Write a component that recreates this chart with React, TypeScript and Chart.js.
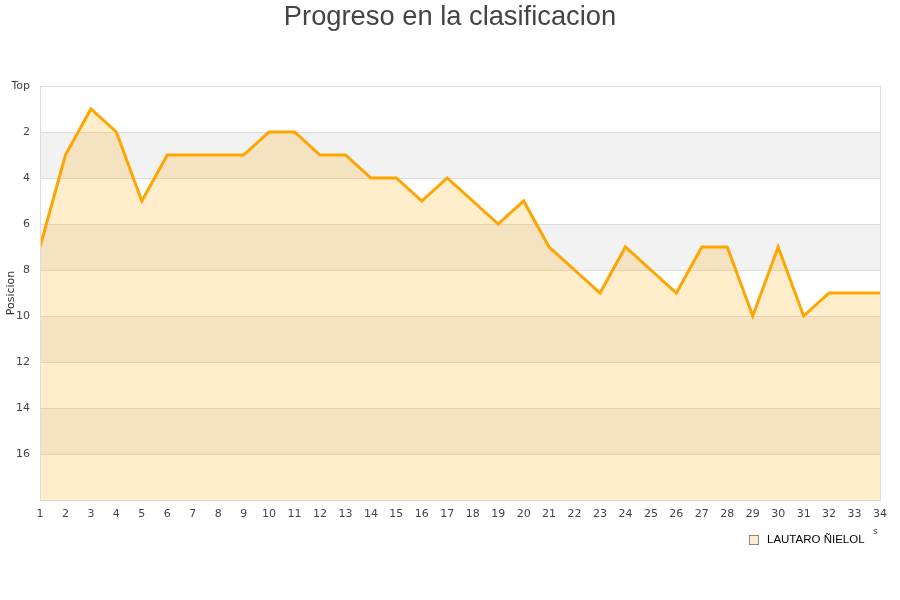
import React, { useEffect, useRef } from "react";
import { Chart, registerables } from "chart.js";

Chart.register(...registerables);

const rounds: number[] = [1, 2, 3, 4, 5, 6, 7, 8, 9, 10, 11, 12, 13, 14, 15, 16, 17, 18, 19, 20, 21, 22, 23, 24, 25, 26, 27, 28, 29, 30, 31, 32, 33, 34];
const positions: number[] = [7, 3, 1, 2, 5, 3, 3, 3, 3, 2, 2, 3, 3, 4, 4, 5, 4, 5, 6, 5, 7, 8, 9, 7, 8, 9, 7, 7, 10, 7, 10, 9, 9, 9];
const bands: [number, number][] = [[2, 4], [6, 8], [10, 12], [14, 16]];
const titleText = "Progreso en la clasificacion";
const seriesName = "LAUTARO ÑIELOL";
const yTitle = "Posicion";
const yTopLabel = "Top";

export default function App() {
  const ref = useRef<HTMLCanvasElement | null>(null);
  useEffect(() => {
    document.body.style.margin = "0";
    const canvas = ref.current!;
    const decor = {
      id: "decor",
      beforeDraw(chart: any) {
        const { ctx, chartArea } = chart;
        const y = chart.scales.y;
        ctx.save();
        ctx.fillStyle = "#f2f2f2";
        for (const [a, b] of bands) {
          const p1 = y.getPixelForValue(a);
          const p2 = y.getPixelForValue(b);
          ctx.fillRect(chartArea.left, p1, chartArea.right - chartArea.left, p2 - p1);
        }
        ctx.restore();
      },
      afterDraw(chart: any) {
        const { ctx, chartArea } = chart;
        ctx.save();
        ctx.strokeStyle = "#dddddd";
        ctx.lineWidth = 1;
        ctx.strokeRect(chartArea.left + 0.5, chartArea.top + 0.5, chartArea.right - chartArea.left, chartArea.bottom - chartArea.top);
        // title
        ctx.fillStyle = "#444444";
        ctx.font = "27.3px 'Liberation Sans', Arial, sans-serif";
        ctx.textAlign = "center";
        ctx.textBaseline = "alphabetic";
        ctx.fillText(titleText, 450, 25);
        // legend
        ctx.fillStyle = "rgba(255,165,0,0.2)";
        ctx.fillRect(749.5, 535.5, 9, 9);
        ctx.strokeStyle = "#888888";
        ctx.strokeRect(749.5, 535.5, 9, 9);
        ctx.fillStyle = "#000000";
        ctx.font = "11.5px 'Liberation Sans', Arial, sans-serif";
        ctx.textAlign = "left";
        ctx.textBaseline = "middle";
        ctx.fillText(seriesName, 767, 540);
        ctx.fillStyle = "#444444";
        ctx.font = "9px 'DejaVu Sans', sans-serif";
        ctx.fillText("s", 873, 532);
        ctx.restore();
      },
    };
    const chart = new Chart(canvas, {
      type: "line",
      data: {
        datasets: [
          {
            label: seriesName,
            data: rounds.map((r, i) => ({ x: r, y: positions[i] })),
            borderColor: "#ffa500",
            backgroundColor: "rgba(255,165,0,0.2)",
            borderWidth: 3,
            pointRadius: 0,
            tension: 0,
            fill: "start",
          },
        ],
      },
      options: {
        animation: false,
        responsive: false,
        maintainAspectRatio: false,
        layout: { padding: { left: 0, top: 86, right: 20, bottom: 70 } },
        plugins: {
          legend: { display: false },
          title: { display: false },
          tooltip: { enabled: false },
        },
        scales: {
          x: {
            type: "linear",
            min: 1,
            max: 34,
            afterFit(scale: any) {
              scale.height = 30;
            },
            grid: { display: false, drawTicks: false },
            border: { display: false },
            ticks: {
              stepSize: 1,
              padding: 8,
              color: "#444444",
              font: { family: "'DejaVu Sans', sans-serif", size: 11 },
              maxRotation: 0,
              autoSkip: false,
            },
          },
          y: {
            type: "linear",
            reverse: true,
            min: 0,
            max: 18,
            afterFit(scale: any) {
              scale.width = 40;
            },
            grid: { color: "#dddddd", drawTicks: false },
            border: { display: false },
            title: {
              display: true,
              text: yTitle,
              color: "#333333",
              font: { family: "'DejaVu Sans', sans-serif", size: 11 },
              padding: { top: 5, bottom: 0 },
            },
            ticks: {
              stepSize: 2,
              padding: 10,
              color: "#444444",
              font: { family: "'DejaVu Sans', sans-serif", size: 11 },
              callback: (v: any) => (v === 0 ? yTopLabel : v === 18 ? "" : String(v)),
            },
          },
        },
      },
      plugins: [decor],
    });
    return () => chart.destroy();
  }, []);
  return (
    <div style={{ position: "absolute", left: 0, top: 0, width: 900, height: 600, background: "#fff" }}>
      <canvas ref={ref} width={900} height={600} style={{ width: 900, height: 600 }} />
    </div>
  );
}
